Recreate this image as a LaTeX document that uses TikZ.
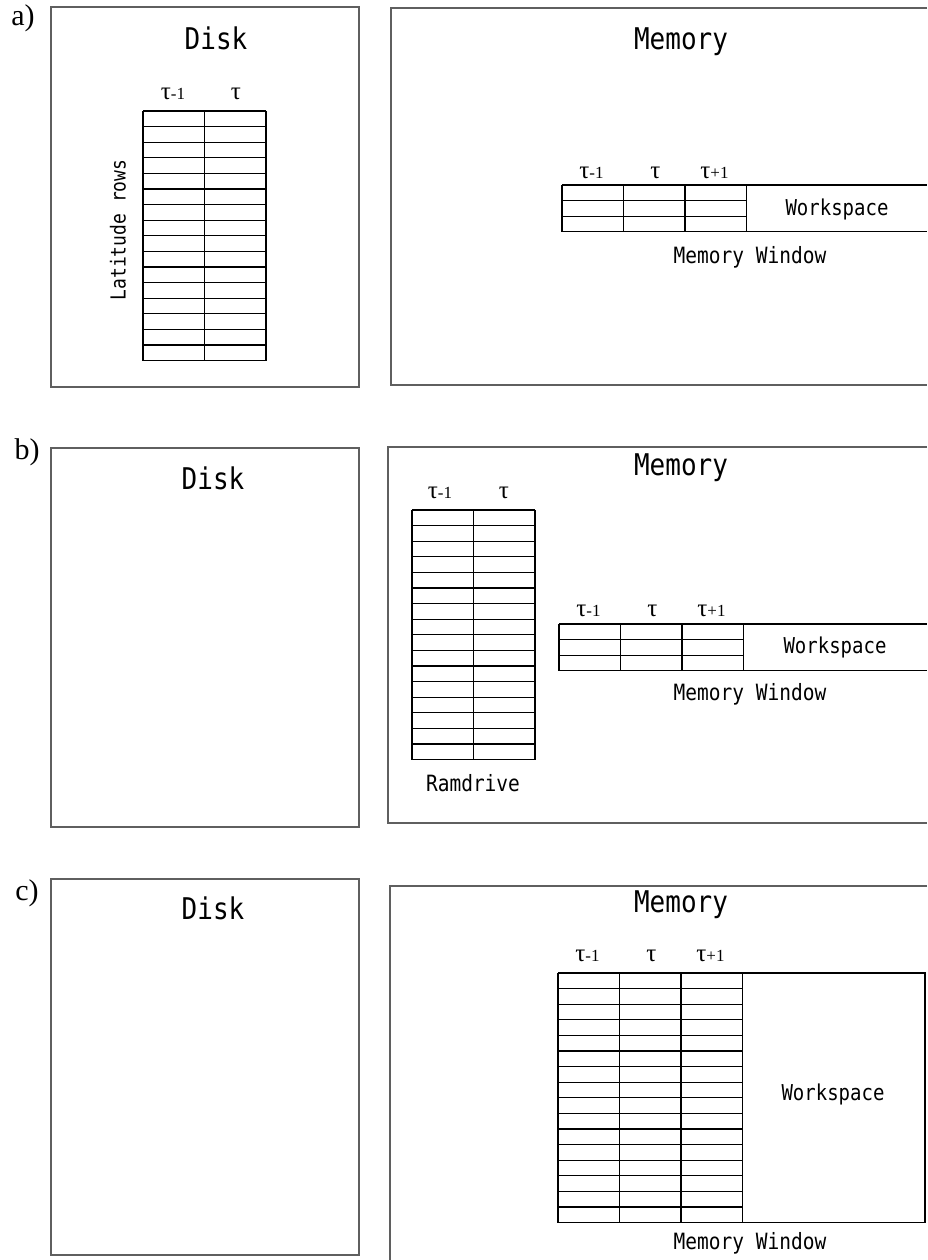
\documentclass[tikz,border=0pt]{standalone}
\usepackage{fontspec}
\setmonofont{DejaVu Sans Mono}
\newfontfamily\timesfont{Liberation Serif}
\definecolor{framegray}{RGB}{95,95,95}

\tikzset{
  boxframe/.style={draw=framegray, line width=1.2pt},
  cellline/.style={draw=black, line width=1.1pt, line cap=square},
  bigtext/.style={font=\ttfamily\fontsize{26}{26}\selectfont},
  smalltext/.style={font=\ttfamily\fontsize{19.5}{19.5}\selectfont},
  taulabel/.style={font=\timesfont\fontsize{25}{25}\selectfont},
  panelmark/.style={font=\timesfont\fontsize{30}{30}\selectfont},
}
% monospace labels are a bit taller than DejaVu
\newcommand{\tall}[1]{\scalebox{1}[1.15]{#1}}
\newcommand{\minusone}{{\fontsize{17}{17}\selectfont-1}}
\newcommand{\plusone}{{\fontsize{17}{17}\selectfont+1}}
% block of cells: #1 top left corner, #2 columns, #3 rows
\newcommand{\cellgrid}[3]{%
  \begin{scope}[shift={#1}]
    \foreach \c in {0,...,#2}
      \draw[cellline] (61.5*\c,0) -- (61.5*\c,15.6*#3);
    \foreach \r in {0,...,#3}
      \draw[cellline] (0,15.6*\r) -- (61.5*#2,15.6*\r);
  \end{scope}}

\begin{document}
\begin{tikzpicture}[x=1pt, y=-1pt]
  \useasboundingbox (0,0) rectangle (927,1260);

  % --- a) whole field on disk
  \node[panelmark] (markA) at (23,18) {a)};
  \draw[boxframe] (51,7) rectangle (359,387);
  \node[bigtext] (diskA) at (216,38) {\tall{Disk}};
  \cellgrid{(143,111)}{2}{16}
  \node[taulabel] (diskAm) at (173,94) {τ\minusone};
  \node[taulabel] (diskAt) at (236,94) {τ};
  \node[smalltext, font=\ttfamily\fontsize{18}{18}\selectfont, rotate=90] (latA) at (118,230) {\tall{Latitude rows}};

  \draw[boxframe] (927,8) -- (391,8) -- (391,385) -- (927,385);
  \node[bigtext] (memA) at (681,42) {\tall{Memory}};
  \cellgrid{(562,185)}{3}{3}
  \draw[cellline] (746.5,185) -- (927,185) (746.5,231.8) -- (927,231.8);
  \node[taulabel] (winAm) at (591.5,173) {τ\minusone};
  \node[taulabel] (winAt) at (655.5,173) {τ};
  \node[taulabel] (winAp) at (714.5,173) {τ\plusone};
  \node[smalltext, font=\ttfamily\fontsize{19}{19}\selectfont] (workA) at (837,209) {\tall{Workspace}};
  \node[smalltext] (winA) at (750,257) {\tall{Memory Window}};

  % --- b) previous step kept on a ramdrive
  \node[panelmark] (markB) at (27,452) {b)};
  \draw[boxframe] (51,448) rectangle (359,827);
  \node[bigtext] (diskB) at (213,478) {\tall{Disk}};

  \draw[boxframe] (927,447) -- (388,447) -- (388,823) -- (927,823);
  \node[bigtext] (memB) at (681,468) {\tall{Memory}};
  \cellgrid{(412,510)}{2}{16}
  \node[taulabel] (ramBm) at (440,493) {τ\minusone};
  \node[taulabel] (ramBt) at (504,493) {τ};
  \node[smalltext] (ramB) at (473,783) {\tall{Ramdrive}};

  \cellgrid{(559,624)}{3}{3}
  \draw[cellline] (743.5,624) -- (927,624) (743.5,670.8) -- (927,670.8);
  \node[taulabel] (winBm) at (588.5,611) {τ\minusone};
  \node[taulabel] (winBt) at (652.5,611) {τ};
  \node[taulabel] (winBp) at (711.5,611) {τ\plusone};
  \node[smalltext, font=\ttfamily\fontsize{19}{19}\selectfont] (workB) at (835,647) {\tall{Workspace}};
  \node[smalltext] (winB) at (750,694) {\tall{Memory Window}};

  % --- c) whole field in memory
  \node[panelmark] (markC) at (27,893) {c)};
  \draw[boxframe] (51,879) rectangle (359,1255);
  \node[bigtext] (diskC) at (213,908) {\tall{Disk}};

  \draw[boxframe] (927,886) -- (390,886) -- (390,1262);
  \node[bigtext] (memC) at (681,905) {\tall{Memory}};
  \cellgrid{(558,973)}{3}{16}
  \draw[cellline] (742.5,973) -- (925,973) -- (925,1222.6) -- (742.5,1222.6);
  \node[taulabel] (winCm) at (587.5,956) {τ\minusone};
  \node[taulabel] (winCt) at (651.5,956) {τ};
  \node[taulabel] (winCp) at (710.5,956) {τ\plusone};
  \node[smalltext, font=\ttfamily\fontsize{19}{19}\selectfont] (workC) at (833,1094) {\tall{Workspace}};
  \node[smalltext] (winC) at (750,1243) {\tall{Memory Window}};
\end{tikzpicture}
\end{document}
